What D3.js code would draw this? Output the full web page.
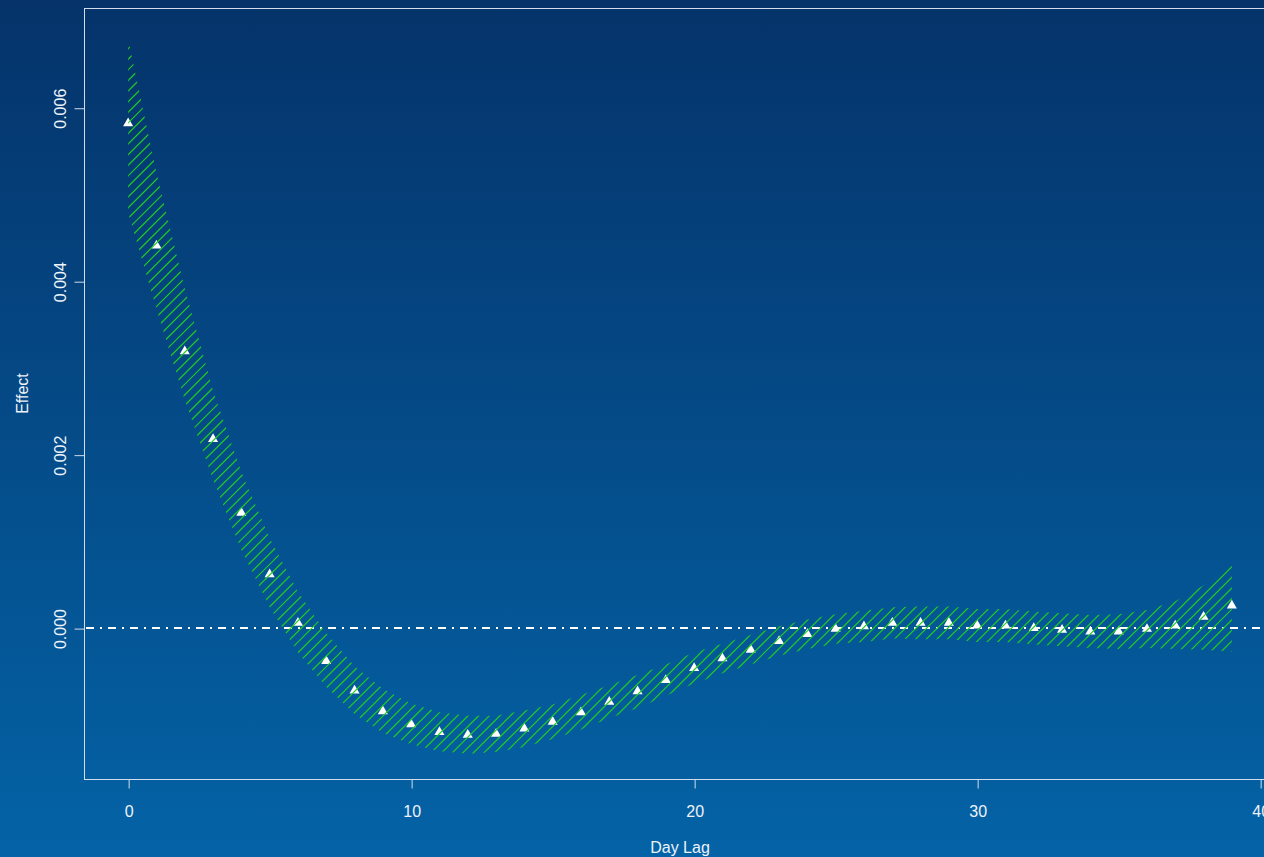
<!DOCTYPE html>
<html>
<head>
<meta charset="utf-8">
<script src="https://cdn.jsdelivr.net/npm/d3@7"></script>
<style>
  body { margin: 0; overflow: hidden; }
  svg { display: block; }
</style>
</head>
<body>
<div id="chart"></div>
<script>
// lag effect estimates (units of 1e-3)
const lags = d3.range(0, 40);
const effect = [5.82, 4.41, 3.19, 2.18, 1.33, 0.62, 0.06, -0.38, -0.72, -0.96,
  -1.11, -1.20, -1.23, -1.22, -1.16, -1.08, -0.97, -0.85, -0.73, -0.60,
  -0.46, -0.35, -0.25, -0.15, -0.07, -0.01, 0.02, 0.06, 0.06, 0.06,
  0.03, 0.03, 0.00, -0.02, -0.04, -0.04, -0.01, 0.03, 0.13, 0.26];
const upper = [6.79, 5.25, 3.92, 2.74, 1.80, 1.04, 0.42, -0.06, -0.44, -0.70,
  -0.87, -0.97, -1.01, -1.01, -0.95, -0.88, -0.77, -0.66, -0.54, -0.42,
  -0.28, -0.18, -0.08, 0.02, 0.10, 0.16, 0.20, 0.24, 0.25, 0.25,
  0.22, 0.22, 0.19, 0.17, 0.15, 0.16, 0.21, 0.31, 0.49, 0.76];
const lower = [4.79, 3.68, 2.63, 1.71, 0.90, 0.24, -0.28, -0.68, -0.99, -1.21,
  -1.34, -1.42, -1.45, -1.43, -1.37, -1.28, -1.17, -1.04, -0.92, -0.78,
  -0.64, -0.52, -0.42, -0.32, -0.24, -0.18, -0.16, -0.12, -0.13, -0.13,
  -0.16, -0.16, -0.19, -0.21, -0.23, -0.24, -0.23, -0.24, -0.25, -0.27];
const xTicks = [0, 10, 20, 30, 40];
const yTicks = [0, 0.002, 0.004, 0.006];

function main() {
    const width = 1264;
    const height = 857;
    const left = 84, top = 8, bottom = 779, right = 1276;
    const lineCol = "#d3dcea";
    const textCol = "#eef3fa";
    const font = "'Liberation Sans', Arial, sans-serif";

    const svg = d3.select("#chart")
        .append("svg")
        .attr("width", width)
        .attr("height", height)

    const defs = svg.append("defs")
    const grad = defs.append("linearGradient")
        .attr("id", "bg")
        .attr("x1", 0).attr("y1", 0).attr("x2", 0).attr("y2", 1)
    grad.append("stop").attr("offset", "0%").attr("stop-color", "#05336a")
    grad.append("stop").attr("offset", "100%").attr("stop-color", "#0463a6")

    svg.append("rect")
        .attr("width", width)
        .attr("height", height)
        .attr("fill", "url(#bg)")

    const x = d3.scaleLinear().domain([-1.56, 40.56]).range([left, right])
    const y = d3.scaleLinear().domain([-0.00174, 0.00715]).range([bottom, top])

    const rows = lags.map((l, i) => ({
        lag: l,
        fit: effect[i] / 1000,
        hi: upper[i] / 1000,
        lo: lower[i] / 1000
    }))

    // plot box
    svg.append("rect")
        .attr("x", left + 0.5)
        .attr("y", top + 0.5)
        .attr("width", right - left)
        .attr("height", bottom - top)
        .attr("fill", "none")
        .attr("stroke", lineCol)
        .attr("stroke-width", 1)

    // x axis
    const xAxis = svg.append("g")
        .attr("transform", `translate(0.5,${bottom + 0.5})`)
        .call(d3.axisBottom(x).tickValues(xTicks).tickSize(9).tickSizeOuter(0).tickFormat(d3.format("d")))
    xAxis.select(".domain").remove()
    xAxis.append("line")
        .attr("x1", x(0)).attr("x2", x(40))
        .attr("stroke", lineCol)
    xAxis.selectAll(".tick line").attr("stroke", lineCol)
    xAxis.selectAll(".tick text")
        .attr("fill", textCol)
        .attr("y", 37)
        .attr("dy", 0)
        .style("font-family", font)
        .style("font-size", "16px")

    // y axis
    const yAxis = svg.append("g")
        .attr("transform", `translate(${left + 0.5},0.5)`)
        .call(d3.axisLeft(y).tickValues(yTicks).tickSize(10).tickSizeOuter(0).tickFormat(d3.format(".3f")))
    yAxis.select(".domain").remove()
    yAxis.selectAll(".tick line").attr("stroke", lineCol)
    yAxis.selectAll(".tick text")
        .attr("fill", textCol)
        .attr("x", 0)
        .attr("y", -19)
        .attr("dy", 0)
        .attr("transform", "rotate(-90)")
        .attr("text-anchor", "middle")
        .style("font-family", font)
        .style("font-size", "16px")

    // axis titles
    svg.append("text")
        .attr("x", (left + right) / 2)
        .attr("y", 853)
        .attr("text-anchor", "middle")
        .attr("fill", textCol)
        .style("font-family", font)
        .style("font-size", "16px")
        .text("Day Lag")

    svg.append("text")
        .attr("transform", `translate(28,${(top + bottom) / 2}) rotate(-90)`)
        .attr("text-anchor", "middle")
        .attr("fill", textCol)
        .style("font-family", font)
        .style("font-size", "16px")
        .text("Effect")

    // zero reference line (dot-dash)
    svg.append("line")
        .attr("x1", left).attr("x2", right)
        .attr("y1", y(0)).attr("y2", y(0))
        .attr("stroke", "#ffffff")
        .attr("stroke-width", 2)
        .attr("stroke-dasharray", "2,6,8,6")
        .attr("stroke-dashoffset", 6)

    // point estimates
    svg.append("g")
        .selectAll("path")
        .data(rows)
        .join("path")
        .attr("transform", d => `translate(${x(d.lag)},${y(d.fit)})`)
        .attr("d", d3.symbol(d3.symbolTriangle, 44))
        .attr("fill", "#ffffff")

    // confidence band, hatched
    const band = d3.area()
        .x(d => x(d.lag))
        .y0(d => y(d.lo))
        .y1(d => y(d.hi))

    defs.append("clipPath")
        .attr("id", "bandclip")
        .append("path")
        .attr("d", band(rows))

    const step = 10.6
    const hatch = []
    for (let c = left + top; c < right + bottom; c += step) hatch.push(c)

    svg.append("g")
        .attr("clip-path", "url(#bandclip)")
        .selectAll("line")
        .data(hatch)
        .join("line")
        .attr("x1", d => d - bottom)
        .attr("y1", bottom)
        .attr("x2", d => d - top)
        .attr("y2", top)
        .attr("stroke", "#22cc22")
        .attr("stroke-width", 1.2)
}
main();
</script>
</body>
</html>
